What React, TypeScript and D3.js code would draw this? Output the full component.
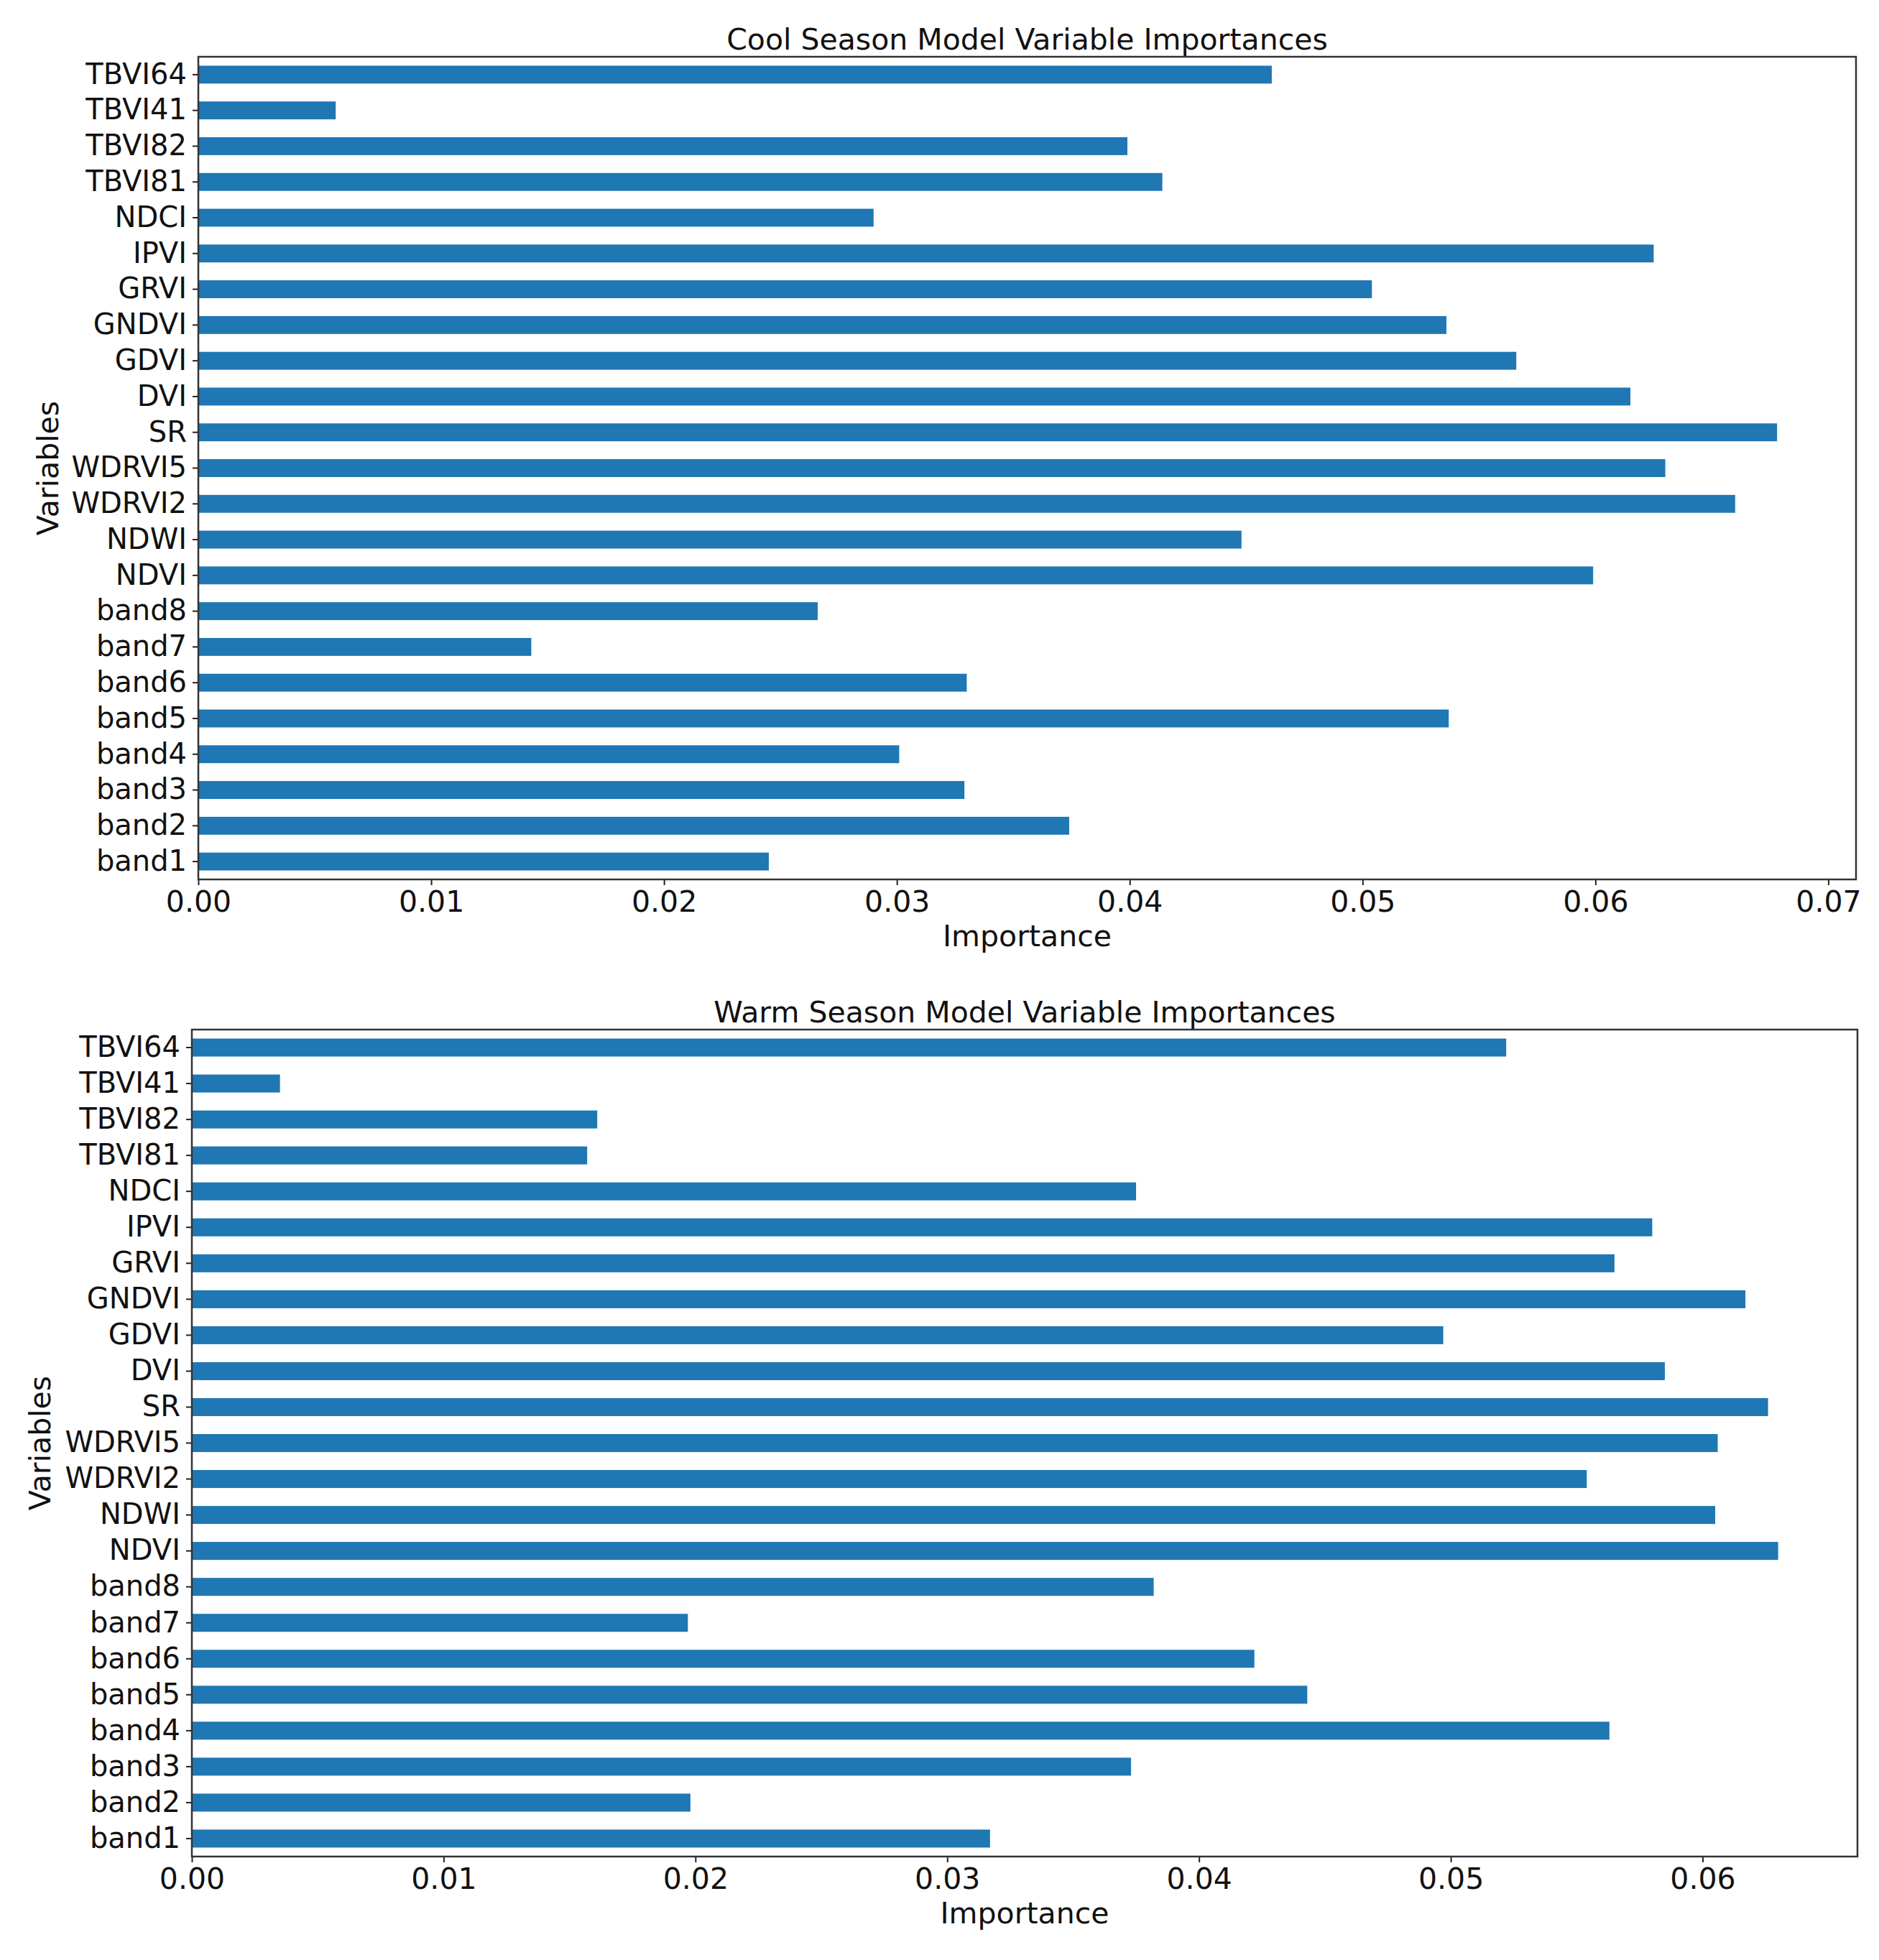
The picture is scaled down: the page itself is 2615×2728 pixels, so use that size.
import * as React from "react";
import * as d3 from "d3";

const variables = [
  "band1", "band2", "band3", "band4", "band5", "band6", "band7", "band8",
  "NDVI", "NDWI", "WDRVI2", "WDRVI5", "SR", "DVI", "GDVI", "GNDVI",
  "GRVI", "IPVI", "NDCI", "TBVI81", "TBVI82", "TBVI41", "TBVI64",
];

const coolValues = [
  0.0245, 0.0374, 0.0329, 0.0301, 0.0537, 0.0330, 0.0143, 0.0266,
  0.0599, 0.0448, 0.0660, 0.0630, 0.0678, 0.0615, 0.0566, 0.0536,
  0.0504, 0.0625, 0.0290, 0.0414, 0.0399, 0.0059, 0.0461,
];

const warmValues = [
  0.0317, 0.0198, 0.0373, 0.0563, 0.0443, 0.0422, 0.0197, 0.0382,
  0.0630, 0.0605, 0.0554, 0.0606, 0.0626, 0.0585, 0.0497, 0.0617,
  0.0565, 0.0580, 0.0375, 0.0157, 0.0161, 0.0035, 0.0522,
];

const titles = [
  "Cool Season Model Variable Importances",
  "Warm Season Model Variable Importances",
];

const W = 2615;
const H = 2728;
const FONT = "'DejaVu Sans', sans-serif";
const BAR = "#1f77b4";

function drawPanel(
  root: d3.Selection<SVGSVGElement, unknown, null, undefined>,
  values: number[],
  title: string,
  box: { left: number; right: number; top: number; bottom: number; ylabelX: number },
) {
  const g = root.append("g");

  // matplotlib style auto limit: max + 5% margin
  const x = d3
    .scaleLinear()
    .domain([0, (d3.max(values) as number) * 1.05])
    .range([box.left, box.right]);

  const y = d3
    .scaleBand<string>()
    .domain(variables.slice().reverse())
    .range([box.top, box.bottom])
    .paddingInner(0.5)
    .paddingOuter(0.25);

  g.selectAll("rect.bar")
    .data(variables)
    .enter()
    .append("rect")
    .attr("class", "bar")
    .attr("x", x(0))
    .attr("y", (d) => y(d) as number)
    .attr("width", (_, i) => x(values[i]) - x(0))
    .attr("height", y.bandwidth())
    .attr("fill", BAR);

  // x axis
  const xAxis = g
    .append("g")
    .attr("transform", `translate(0, ${box.bottom})`)
    .call(
      d3
        .axisBottom(x)
        .ticks(8)
        .tickFormat(d3.format(".2f"))
        .tickSize(8)
        .tickPadding(8),
    );
  xAxis.select(".domain").remove();
  xAxis.selectAll("line").attr("stroke", "#222").attr("stroke-width", 2);
  xAxis
    .selectAll("text")
    .attr("font-family", FONT)
    .attr("font-size", 41)
    .attr("fill", "#111");

  // y axis
  const yAxis = g
    .append("g")
    .attr("transform", `translate(${box.left}, 0)`)
    .call(d3.axisLeft(y).tickSize(8).tickPadding(8));
  yAxis.select(".domain").remove();
  yAxis.selectAll("line").attr("stroke", "#222").attr("stroke-width", 2);
  yAxis
    .selectAll("text")
    .attr("font-family", FONT)
    .attr("font-size", 40)
    .attr("fill", "#111");

  // frame
  g.append("rect")
    .attr("x", box.left)
    .attr("y", box.top)
    .attr("width", box.right - box.left)
    .attr("height", box.bottom - box.top)
    .attr("fill", "none")
    .attr("stroke", "#333")
    .attr("stroke-width", 2.5);

  const cx = (box.left + box.right) / 2;

  g.append("text")
    .attr("x", cx)
    .attr("y", box.top - 10)
    .attr("text-anchor", "middle")
    .attr("font-family", FONT)
    .attr("font-size", 41)
    .attr("fill", "#111")
    .text(title);

  g.append("text")
    .attr("x", cx)
    .attr("y", box.bottom + 93)
    .attr("text-anchor", "middle")
    .attr("font-family", FONT)
    .attr("font-size", 41)
    .attr("fill", "#111")
    .text("Importance");

  g.append("text")
    .attr("transform", `translate(${box.ylabelX}, ${(box.top + box.bottom) / 2}) rotate(-90)`)
    .attr("text-anchor", "middle")
    .attr("dominant-baseline", "central")
    .attr("font-family", FONT)
    .attr("font-size", 41)
    .attr("fill", "#111")
    .text("Variables");
}

function drawChart(svgRef: React.RefObject<SVGSVGElement>) {
  const svg = d3.select(svgRef.current as SVGSVGElement);
  svg.selectAll("*").remove();

  svg.append("rect").attr("width", W).attr("height", H).attr("fill", "#fff");

  drawPanel(svg, coolValues, titles[0], {
    left: 276, right: 2583, top: 79, bottom: 1224, ylabelX: 67,
  });
  drawPanel(svg, warmValues, titles[1], {
    left: 267, right: 2585, top: 1433, bottom: 2584, ylabelX: 56,
  });
}

const App: React.FunctionComponent = () => {
  const svg = React.useRef<SVGSVGElement>(null);
  React.useEffect(() => {
    drawChart(svg);
  }, [svg]);

  return (
    <div id="chart">
      <svg
        ref={svg}
        width={W}
        height={H}
        style={{ position: "absolute", left: 0, top: 0, display: "block" }}
      />
    </div>
  );
};

export default App;
